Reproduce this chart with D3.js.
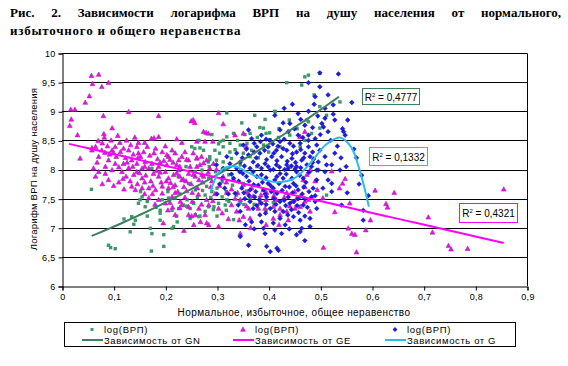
<!DOCTYPE html>
<html><head><meta charset="utf-8">
<script src="https://cdn.jsdelivr.net/npm/d3@7"></script>
<style>body{margin:0;background:#fff}svg{display:block}text{font-family:"Liberation Sans",Arial,sans-serif}</style>
</head><body><svg id="c" width="568" height="366"></svg>
<script>
// ---------- data ----------
const xTicks = [0, 0.1, 0.2, 0.3, 0.4, 0.5, 0.6, 0.7, 0.8, 0.9];
const yTicks = [6, 6.5, 7, 7.5, 8, 8.5, 9, 9.5, 10];
const titleLine1 = "Рис. 2. Зависимости логарифма ВРП на душу населения от нормального,";
const titleLine2 = "избыточного и общего неравенства";
const xTitle = "Нормальное, избыточное, общее неравенство";
const yTitle = "Логарифм ВРП на душу населения";
const legendMarkerLabels = ["log(ВРП)", "log(ВРП)", "log(ВРП)"];
const legendLineLabels = ["Зависимость от GN", "Зависимость от GE", "Зависимость от G"];
const r2Values = ["0,4777", "0,1332", "0,4321"];

// normal inequality (GN) – green squares
const gnPoints = [[0.057,7.66],[0.148,7.42],[0.161,7.36],[0.135,7.19],[0.142,7.13],[0.139,7.06],[0.132,6.93],[0.174,6.90],[0.171,6.99],[0.190,7.30],[0.190,7.13],[0.197,6.88],[0.197,6.68],[0.173,6.60],[0.090,6.70],[0.094,6.66],[0.103,6.64],[0.213,6.99],[0.216,7.02],[0.213,7.30],[0.223,7.10],[0.226,7.33],[0.235,7.39],[0.248,7.33],[0.255,7.42],[0.258,7.22],[0.248,7.16],[0.265,7.19],[0.277,7.28],[0.284,7.36],[0.294,7.36],[0.303,7.42],[0.316,7.39],[0.323,7.45],[0.152,7.62],[0.155,7.53],[0.165,7.45],[0.194,7.48],[0.206,7.51],[0.219,7.51],[0.174,8.02],[0.258,7.96],[0.271,7.99],[0.284,7.85],[0.297,7.96],[0.310,7.79],[0.323,7.91],[0.245,7.76],[0.258,7.65],[0.277,7.56],[0.290,7.62],[0.310,7.53],
[0.319,8.97],[0.348,8.80],[0.373,8.93],[0.383,8.72],[0.393,8.86],[0.413,8.99],[0.402,8.63],[0.364,8.62],[0.332,8.62],[0.319,8.56],[0.312,8.50],[0.303,8.44],[0.325,8.45],[0.345,8.42],[0.312,8.39],[0.335,8.34],[0.351,8.28],[0.367,8.33],[0.390,8.42],[0.402,8.50],[0.419,8.55],[0.422,8.39],[0.441,8.59],[0.461,8.39],[0.470,8.50],[0.474,8.85],[0.435,9.49],[0.464,9.45],[0.470,9.59],[0.251,8.39],[0.257,8.36],[0.274,8.33],[0.286,8.22],[0.283,8.13],[0.299,8.16],[0.312,8.13],[0.328,8.19],[0.345,8.08],[0.364,8.22],[0.377,8.05],[0.296,8.33],
[0.499,9.65],[0.477,9.62],[0.488,9.28],[0.499,9.08],[0.512,8.93],[0.477,8.82],[0.499,8.71],[0.483,8.62],[0.538,9.16],
[0.267,8.37],[0.286,8.17],[0.306,8.48],[0.354,8.60],[0.390,8.71],[0.403,8.51],[0.412,9.00],[0.280,7.71],[0.254,7.43],[0.267,7.20],[0.241,7.37],[0.222,7.20],[0.293,7.31],[0.319,7.48],[0.345,7.43],[0.332,7.14],[0.357,7.63],[0.383,7.51],[0.409,7.43],[0.151,7.48],[0.190,7.25],[0.512,7.56],[0.330,7.73],[0.351,7.76],[0.364,7.50],
[0.205,7.62],[0.228,7.58],[0.242,7.48],[0.262,7.52],[0.272,7.64],[0.288,7.52],[0.300,7.68],[0.318,7.62],[0.338,7.56],[0.352,7.40],[0.372,7.40],[0.395,7.30],[0.300,7.20],[0.318,7.30],[0.285,8.05],[0.305,8.28],[0.325,8.30],[0.340,8.50],[0.358,8.45],[0.378,8.55],[0.395,8.62],[0.420,8.70],[0.440,8.85],[0.455,8.70],[0.380,8.20],[0.400,8.30],[0.265,8.50],[0.290,8.60],[0.240,8.05],[0.225,7.88],[0.120,7.15],[0.165,7.20],[0.182,7.35]];

// excess inequality (GE) – magenta triangles
const gePoints = [[0.057,9.61],[0.071,9.63],[0.059,9.47],[0.077,9.42],[0.090,9.49],[0.053,9.26],[0.045,9.15],[0.017,9.03],[0.025,9.03],[0.018,8.86],[0.015,8.75],[0.030,8.59],[0.129,8.99],[0.187,8.92],[0.080,8.92],[0.097,8.71],[0.081,8.61],[0.082,8.55],[0.070,8.49],[0.108,8.58],[0.141,8.55],[0.148,8.46],[0.173,8.53],[0.178,8.54],[0.187,8.56],[0.222,8.52],[0.232,8.46],[0.250,8.83],[0.035,8.19],[0.058,8.37],
[0.058,8.33],[0.065,8.39],[0.077,8.33],[0.083,8.29],[0.097,8.33],[0.103,8.39],[0.119,8.36],[0.129,8.33],[0.145,8.39],[0.148,8.28],[0.165,8.39],[0.181,8.36],[0.194,8.30],[0.206,8.22],[0.213,8.33],[0.219,8.28],[0.226,8.16],[0.232,8.22],[0.245,8.16],[0.071,8.22],[0.090,8.16],[0.103,8.10],[0.084,8.05],[0.119,8.10],[0.135,8.16],[0.145,8.10],[0.161,8.13],[0.174,8.10],[0.155,8.02],[0.129,8.02],[0.187,8.05],[0.203,8.08],
[0.061,8.02],[0.071,7.96],[0.084,7.93],[0.065,7.88],[0.090,7.82],[0.097,7.99],[0.116,7.96],[0.129,8.02],[0.139,7.91],[0.145,7.96],[0.155,7.85],[0.168,8.02],[0.177,7.93],[0.187,7.88],[0.200,7.96],[0.206,7.85],[0.216,7.91],[0.226,7.99],[0.232,7.82],[0.245,7.93],[0.258,7.88],[0.271,7.91],[0.135,7.71],[0.142,7.65],[0.155,7.68],[0.168,7.68],[0.181,7.65],[0.194,7.71],[0.206,7.68],[0.219,7.73],[0.168,7.51],[0.187,7.48],[0.213,7.53],[0.194,7.59],[0.232,7.39],[0.245,7.36],[0.265,7.33],[0.284,7.39],[0.303,7.33],[0.219,7.22],[0.245,7.22],[0.268,7.10],[0.284,7.05],[0.303,7.02],[0.229,7.45],[0.258,7.22],[0.277,7.22],
[0.254,8.85],[0.257,8.80],[0.274,8.65],[0.279,8.63],[0.283,8.62],[0.303,8.97],[0.312,8.78],[0.261,8.48],[0.277,8.48],[0.292,8.48],[0.335,8.59],[0.351,8.62],[0.357,8.39],[0.254,8.28],[0.261,8.19],[0.270,8.22],[0.280,8.16],[0.293,8.10],[0.267,8.08],[0.286,8.02],[0.261,8.05],[0.470,8.65],[0.461,8.56],
[0.480,7.99],[0.522,7.97],[0.548,7.84],[0.543,7.76],[0.537,7.68],[0.494,7.65],[0.505,7.51],[0.477,7.48],[0.557,7.42],[0.528,7.27],[0.554,6.99],[0.561,6.90],[0.567,6.88],[0.506,6.66],[0.570,6.58],[0.351,7.19],[0.364,7.16],[0.343,7.13],[0.328,7.39],[0.335,7.50],[0.361,7.33],[0.380,7.33],[0.393,7.33],[0.409,7.36],[0.422,7.33],[0.435,7.28],[0.451,7.33],[0.461,7.36],[0.422,7.22],[0.409,7.16],[0.438,7.13],[0.470,7.45],[0.474,7.91],[0.467,7.82],[0.454,7.50],[0.480,7.28],
[0.606,7.64],[0.643,7.60],[0.627,7.41],[0.630,7.35],[0.709,7.18],[0.717,6.92],[0.748,6.69],[0.753,6.63],[0.785,6.64],[0.855,7.66],[0.597,7.13],[0.588,6.96],
[0.209,8.17],[0.222,8.08],[0.241,8.17],[0.261,8.20],[0.274,8.11],[0.222,7.94],[0.235,7.83],[0.254,7.91],[0.274,7.88],[0.290,7.80],[0.219,7.60],[0.241,7.63],[0.264,7.57],[0.280,7.48],[0.209,7.43],[0.228,7.34],[0.251,7.20],[0.280,7.08],[0.319,7.60],[0.345,7.48],[0.357,7.37],[0.370,7.54],[0.383,7.43],[0.396,7.60],[0.415,7.48],[0.441,7.37],[0.461,7.54],[0.299,8.00],[0.312,7.88],[0.332,7.83],[0.351,7.74],[0.367,7.68],[0.390,7.65],[0.409,7.63],[0.435,7.60],
[0.068,8.12],[0.078,8.45],[0.092,8.26],[0.105,8.22],[0.112,8.46],[0.123,8.20],[0.133,8.42],[0.138,8.26],[0.152,8.22],[0.158,8.30],[0.170,8.24],[0.185,8.18],[0.197,8.15],[0.110,8.04],[0.124,7.88],[0.150,7.94],[0.162,7.90],[0.172,7.80],[0.183,7.98],[0.192,7.78],[0.210,7.77],[0.224,7.62],[0.236,7.70],[0.250,7.75],[0.262,7.68],[0.272,7.78],[0.288,7.70],[0.296,7.58],[0.305,7.72],[0.318,7.78],[0.328,7.66],[0.340,7.60],[0.110,7.78],[0.120,7.66],[0.160,7.58],[0.175,7.58],[0.200,7.42],[0.214,7.35],[0.238,7.52],[0.252,7.45],[0.270,7.40],[0.292,7.46],[0.310,7.25],[0.322,7.15],[0.338,7.28],[0.255,7.05],[0.236,6.95],[0.196,7.08],[0.345,6.90],[0.365,7.00],[0.395,7.05],[0.420,7.05],[0.445,7.45],[0.395,7.48],[0.360,7.60],[0.385,7.56],[0.410,7.55],[0.430,7.52],[0.450,7.62],[0.470,7.70],[0.490,7.80],
[0.088,8.40],[0.100,8.28],[0.113,8.30],[0.126,8.12],[0.137,8.05],[0.147,8.20],[0.160,8.05],[0.178,8.28],[0.190,8.12],[0.203,8.25],[0.215,8.12],[0.228,8.05],[0.238,8.30],[0.248,8.05],[0.118,7.84],[0.132,7.80],[0.146,7.75],[0.160,7.78],[0.176,7.72],[0.190,7.95],[0.202,7.80],[0.215,7.70],[0.228,7.88],[0.240,7.80],[0.252,7.60],[0.265,7.82],[0.283,7.95],[0.180,7.40],[0.205,7.30],[0.095,8.50],[0.125,8.50],[0.160,8.46],[0.200,8.40],[0.100,7.72],[0.078,7.75]];

// overall inequality (G) – blue diamonds
const gPoints = [[0.535,9.64],[0.477,9.49],[0.499,9.42],[0.515,9.28],[0.490,9.25],[0.561,9.15],[0.525,9.11],[0.509,9.05],[0.477,9.00],[0.509,8.88],[0.528,8.85],[0.503,8.79],[0.506,8.73],[0.515,8.65],[0.545,8.65],[0.548,8.59],[0.490,8.53],[0.493,8.42],[0.477,8.50],[0.509,8.22],[0.496,8.13],[0.480,8.22],[0.499,8.33],[0.528,8.28],[0.483,8.05],[0.512,8.08],[0.493,7.99],
[0.499,9.66],[0.541,7.39],[0.583,7.30],[0.593,7.55],[0.522,8.08],[0.538,7.99],[0.515,7.82],[0.505,7.68],[0.522,7.62],[0.490,7.55],[0.543,8.70],
[0.496,7.99],[0.509,7.96],[0.522,7.76],[0.493,7.82],[0.583,7.13],[0.361,6.70],[0.396,6.68],[0.403,6.59],[0.416,6.65],[0.419,6.61],[0.412,6.96],[0.390,6.99],[0.393,6.90],[0.454,6.88],[0.461,6.93],[0.464,6.99],[0.480,7.02],[0.480,7.16],[0.461,7.13],[0.448,7.19],[0.432,7.05],[0.409,7.08],[0.383,7.22],[0.367,7.10],[0.386,7.10],[0.422,7.16],[0.444,7.31],[0.467,7.39],[0.493,7.33],[0.483,7.53],[0.457,7.65],[0.438,7.53],[0.422,7.45],[0.403,7.33],[0.386,7.42],[0.370,7.33],[0.354,7.50],[0.341,7.39],[0.364,7.45],[0.396,7.53],[0.416,7.59],[0.432,7.71],[0.448,7.76],[0.467,7.85],[0.454,7.96],[0.438,8.02],[0.422,7.93],[0.403,7.99],[0.386,7.91],[0.370,7.96],[0.357,7.88],[0.344,7.96],[0.332,7.85],[0.380,7.73],[0.399,7.76],[0.412,7.82],[0.428,7.85],[0.364,7.65],[0.348,7.68],[0.390,7.65],[0.409,7.68],[0.335,7.59],[0.428,7.28],[0.441,7.42],[0.373,7.53],[0.457,7.50],
[0.457,8.96],[0.412,8.93],[0.441,8.79],[0.470,8.76],[0.422,8.68],[0.438,8.65],[0.457,8.59],[0.477,8.59],[0.361,8.68],[0.386,8.59],[0.367,8.53],[0.402,8.50],[0.422,8.48],[0.441,8.45],[0.461,8.45],[0.477,8.39],[0.351,8.42],[0.377,8.39],[0.399,8.39],[0.415,8.33],[0.435,8.33],[0.454,8.30],[0.470,8.28],[0.338,8.28],[0.361,8.25],[0.383,8.28],[0.406,8.22],[0.425,8.22],[0.445,8.19],[0.464,8.16],[0.319,8.22],[0.325,8.10],[0.345,8.13],[0.370,8.13],[0.393,8.10],[0.415,8.08],[0.435,8.08],[0.454,8.05],[0.474,8.08],[0.299,8.08],[0.312,8.02],[0.338,8.02],[0.364,8.02],[0.386,8.02],[0.409,8.00],[0.431,8.00],[0.451,8.01],
[0.305,7.75],[0.315,7.68],[0.322,7.58],[0.310,7.85],[0.328,7.92],[0.300,7.58],[0.565,8.35],[0.570,8.20],[0.550,8.05],[0.580,7.90],[0.575,7.75],[0.552,7.60],
[0.372,8.45],[0.384,8.48],[0.395,8.52],[0.408,8.44],[0.418,8.40],[0.430,8.52],[0.448,8.40],[0.466,8.55],[0.485,8.30],[0.357,8.35],[0.372,8.30],[0.392,8.33],[0.410,8.28],[0.428,8.36],[0.446,8.27],[0.462,8.34],[0.487,8.18],[0.349,8.20],[0.376,8.20],[0.396,8.17],[0.416,8.15],[0.436,8.14],[0.452,8.12],[0.468,8.20],[0.485,8.12],[0.353,8.06],[0.379,8.07],[0.399,8.05],[0.421,8.04],[0.444,8.06],[0.462,8.03],[0.478,7.95],[0.350,7.93],[0.377,7.88],[0.395,7.86],[0.416,7.88],[0.434,7.92],[0.445,7.85],[0.460,7.90],[0.472,7.78],[0.342,7.80],[0.362,7.80],[0.371,7.74],[0.388,7.78],[0.404,7.72],[0.420,7.76],[0.440,7.70],[0.453,7.72],[0.468,7.70],[0.486,7.68],[0.352,7.60],[0.375,7.62],[0.393,7.58],[0.405,7.62],[0.426,7.64],[0.446,7.60],[0.465,7.58],[0.478,7.62],[0.362,7.55],[0.382,7.48],[0.410,7.50],[0.430,7.47],[0.449,7.45],[0.470,7.50],[0.490,7.45],[0.377,7.38],[0.395,7.40],[0.414,7.40],[0.433,7.38],[0.455,7.38],[0.475,7.35],[0.394,7.25],[0.412,7.28],[0.437,7.22],[0.458,7.26],[0.470,7.20],[0.345,7.28],[0.355,7.05],[0.372,6.98],[0.425,6.90],[0.440,6.98],[0.345,6.85],[0.470,6.78],
[0.428,8.80],[0.450,8.70],[0.462,8.86],[0.485,8.72],[0.495,8.92],[0.520,8.50],[0.533,8.40],[0.540,8.20],[0.500,8.60],[0.430,9.05],[0.446,9.12],[0.488,9.12],[0.525,8.95],[0.553,8.85]];

// trend lines
const gnTrendCoef = [6.661, 3.288, 2.876];   // polynomial a + b x + c x^2
const gnTrendRange = [0.0575, 0.536];
const geTrendCoef = [8.467, -2.02];
const geTrendRange = [0.0135, 0.855];
const gTrendX = [0.288,0.300,0.315,0.335,0.360,0.390,0.420,0.450,0.480,0.510,0.538,0.560,0.575,0.585,0.594];
const gTrendY = [7.62,7.90,8.03,8.05,7.95,7.83,7.78,7.85,8.10,8.42,8.55,8.38,8.02,7.70,7.36];

// ---------- drawing ----------
const svg = d3.select("#c");
const plot = {l: 62, r: 527, t: 53, b: 286};
const x = d3.scaleLinear().domain([0, 0.9]).range([plot.l, plot.r]);
const y = d3.scaleLinear().domain([6, 10]).range([plot.b, plot.t]);
const fmt = v => String(v).replace(".", ",");

const colGN = "#3a9a6a", colGNline = "#3f7f5f";
const colGE = "#ff00ff", colGEstroke = "#9b2f9f";
const colG = "#1c1ce6";
const colGline = "#29bde6";

// title (justified first line)
const serif = "'Liberation Serif','Times New Roman',serif";
function justifyLine(str, x0, x1, yb) {
  const words = str.split(" ");
  const g = svg.append("g");
  const nodes = words.map(w => g.append("text").attr("y", yb).text(w)
      .style("font-family", serif).style("font-weight", "bold").style("font-size", "13px"));
  const widths = nodes.map(n => n.node().getComputedTextLength());
  const gap = (x1 - x0 - d3.sum(widths)) / (words.length - 1);
  let cx = x0;
  nodes.forEach((n, i) => { n.attr("x", cx); cx += widths[i] + gap; });
}
justifyLine(titleLine1, 10, 561, 17);
svg.append("text").attr("x", 10).attr("y", 35).text(titleLine2)
  .style("font-family", serif).style("font-weight", "bold").style("font-size", "13px")
  .style("letter-spacing", "0.75px");

// grid lines
svg.append("g").selectAll("line").data(yTicks.filter(v => v > 6 && v < 10)).join("line")
  .attr("x1", plot.l).attr("x2", plot.r)
  .attr("y1", d => Math.round(y(d)) + 0.5).attr("y2", d => Math.round(y(d)) + 0.5)
  .attr("stroke", "#000").attr("stroke-width", 1);
svg.append("path")
  .attr("d", `M${plot.l},${plot.t + 0.5}H${plot.r + 0.5}V${plot.b}`)
  .attr("fill", "none").attr("stroke", "#000");

// axes
const yAxis = d3.axisLeft(y).tickValues(yTicks).tickFormat(fmt).tickSize(4).tickPadding(3);
const gy = svg.append("g").attr("transform", `translate(${plot.l + 0.5},0.5)`).call(yAxis);
const xAxis = d3.axisBottom(x).tickValues(xTicks).tickFormat(fmt).tickSize(4).tickPadding(3);
const gx = svg.append("g").attr("transform", `translate(0.5,${Math.round(plot.b) + 0.5})`).call(xAxis);
[gy, gx].forEach(g => {
  g.select(".domain").attr("stroke", "#000");
  g.selectAll(".tick line").attr("stroke", "#000");
  g.selectAll("text").style("font-family", "'Liberation Sans',Arial,sans-serif").style("font-size", "9px")
    .style("letter-spacing", "0.3px").attr("fill", "#000");
});

// axis titles
svg.append("text").attr("x", 294).attr("y", 316).attr("text-anchor", "middle")
  .style("font-size", "10px").style("letter-spacing", "0.4px").text(xTitle);
svg.append("text").attr("transform", "translate(37,169) rotate(-90)").attr("text-anchor", "middle")
  .style("font-size", "9.5px").style("letter-spacing", "0.25px").text(yTitle);

// markers
const triPath = "M0,-2.6L2.4,1.8L-2.4,1.8Z";
const diaPath = "M0,-2.4L2.4,0L0,2.4L-2.4,0Z";
const marks = svg.append("g");
marks.append("g").selectAll("rect").data(gnPoints).join("rect")
  .attr("x", d => x(d[0]) - 1.7).attr("y", d => y(d[1]) - 1.7)
  .attr("width", 3.4).attr("height", 3.4).attr("fill", colGN);
marks.append("g").selectAll("path").data(gePoints).join("path")
  .attr("transform", d => `translate(${x(d[0])},${y(d[1])})`)
  .attr("d", triPath).attr("fill", colGE).attr("stroke", colGEstroke).attr("stroke-width", 0.6);
marks.append("g").selectAll("path").data(gPoints).join("path")
  .attr("transform", d => `translate(${x(d[0])},${y(d[1])})`)
  .attr("d", diaPath).attr("fill", colG).attr("stroke", "#0000a0").attr("stroke-width", 0.4);

// trend lines
const poly = (c, v) => c.reduce((s, a, i) => s + a * Math.pow(v, i), 0);
const line = d3.line().x(d => x(d[0])).y(d => y(d[1]));
const polyPts = (c, r) => d3.range(0, 41).map(i => { const v = r[0] + (r[1] - r[0]) * i / 40; return [v, poly(c, v)]; });
svg.append("path").attr("d", line(polyPts(gnTrendCoef, gnTrendRange)))
  .attr("fill", "none").attr("stroke", colGNline).attr("stroke-width", 2);
svg.append("path").attr("d", line(polyPts(geTrendCoef, geTrendRange)))
  .attr("fill", "none").attr("stroke", colGE).attr("stroke-width", 2);
svg.append("path").attr("d", line.curve(d3.curveCatmullRom.alpha(0.5))(gTrendX.map((v, i) => [v, gTrendY[i]])))
  .attr("fill", "none").attr("stroke", colGline).attr("stroke-width", 2);

// R² boxes
const r2Boxes = [
  {v: r2Values[0], px: 0.5806, py: 9.40, w: 57, h: 16, c: colGNline},
  {v: r2Values[1], px: 0.5947, py: 8.38, w: 58, h: 18, c: colGline},
  {v: r2Values[2], px: 0.769, py: 7.42, w: 58, h: 19, c: colGE}
];
r2Boxes.forEach(b => {
  const g = svg.append("g").attr("transform", `translate(${Math.round(x(b.px)) + 0.5},${Math.round(y(b.py)) + 0.5})`);
  g.append("rect").attr("width", b.w).attr("height", b.h).attr("fill", "#fff").attr("stroke", b.c).attr("stroke-width", 1);
  const t = g.append("text").attr("x", b.w / 2).attr("y", b.h / 2 + 4).attr("text-anchor", "middle").style("font-size", "10px");
  t.append("tspan").text("R");
  t.append("tspan").attr("dy", -4).style("font-size", "6px").text("2");
  t.append("tspan").attr("dy", 4).text(" = " + b.v);
});

// legend
const lg = svg.append("g");
lg.append("rect").attr("x", 64.5).attr("y", 322.5).attr("width", 451).attr("height", 24)
  .attr("fill", "#fff").attr("stroke", "#000");
const colX = [92, 243, 395];
const row1 = 329.5, row2 = 340;
lg.append("rect").attr("x", colX[0] - 1.5).attr("y", row1 - 1.5).attr("width", 3).attr("height", 3).attr("fill", colGN);
lg.append("path").attr("transform", `translate(${colX[1]},${row1})`).attr("d", triPath).attr("fill", colGE).attr("stroke", colGEstroke).attr("stroke-width", 0.6);
lg.append("path").attr("transform", `translate(${colX[2]},${row1})`).attr("d", diaPath).attr("fill", colG);
legendMarkerLabels.forEach((s, i) => lg.append("text").attr("x", colX[i] + 12).attr("y", row1 + 3.5)
  .style("font-size", "9.5px").style("letter-spacing", "0.7px").text(s));
const lineCols = [colGNline, colGE, colGline];
legendLineLabels.forEach((s, i) => {
  lg.append("line").attr("x1", colX[i] - 10).attr("x2", colX[i] + 11).attr("y1", row2).attr("y2", row2)
    .attr("stroke", lineCols[i]).attr("stroke-width", 2);
  lg.append("text").attr("x", colX[i] + 12).attr("y", row2 + 3.5)
    .style("font-size", "9.5px").style("letter-spacing", "0.6px").text(s);
});
</script></body></html>
